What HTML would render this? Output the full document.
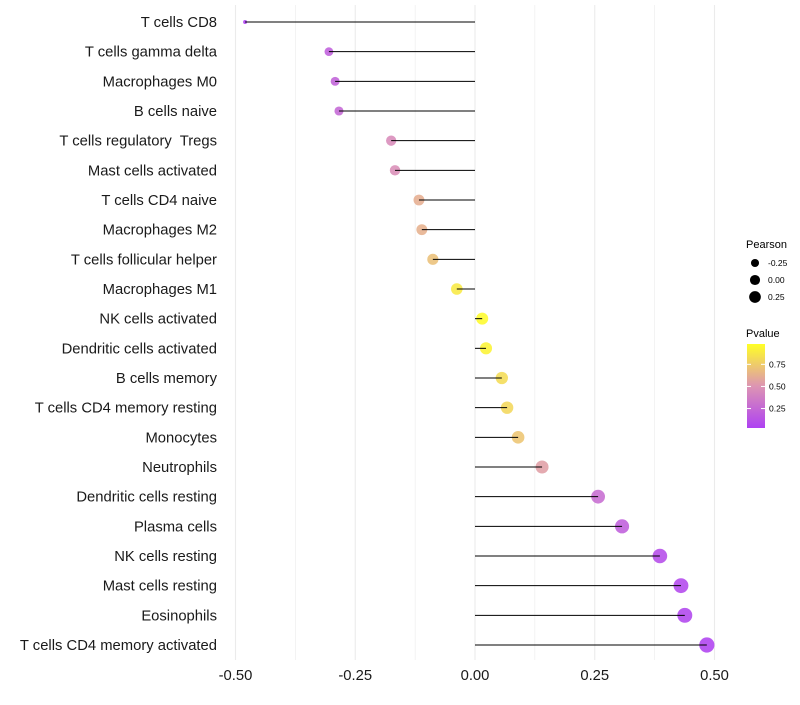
<!DOCTYPE html>
<html><head><meta charset="utf-8"><style>
body{margin:0;background:#fff;font-family:"Liberation Sans",sans-serif}
text{white-space:pre}
</style></head><body>
<svg id="c" width="800" height="700" xmlns="http://www.w3.org/2000/svg" font-family="Liberation Sans, sans-serif"></svg>
<script>
const categories=["T cells CD8","T cells gamma delta","Macrophages M0","B cells naive","T cells regulatory  Tregs","Mast cells activated","T cells CD4 naive","Macrophages M2","T cells follicular helper","Macrophages M1","NK cells activated","Dendritic cells activated","B cells memory","T cells CD4 memory resting","Monocytes","Neutrophils","Dendritic cells resting","Plasma cells","NK cells resting","Mast cells resting","Eosinophils","T cells CD4 memory activated"];
const pearson=[-0.48,-0.305,-0.292,-0.284,-0.175,-0.167,-0.117,-0.111,-0.088,-0.038,0.015,0.023,0.056,0.067,0.090,0.14,0.257,0.307,0.386,0.43,0.438,0.484];
const pvalue=[0.03,0.2,0.22,0.25,0.45,0.47,0.62,0.63,0.7,0.88,0.96,0.93,0.82,0.8,0.72,0.55,0.28,0.2,0.1,0.07,0.06,0.04];
const xTicks=[-0.5,-0.25,0,0.25,0.5];
const xTickLabels=["-0.50","-0.25","0.00","0.25","0.50"];
const sizeLegend=[-0.25,0,0.25];
const sizeLegendLabels=["-0.25","0.00","0.25"];
const colorLegend=[0.25,0.5,0.75];
const colorLegendLabels=["0.25","0.50","0.75"];

const NS="http://www.w3.org/2000/svg";
const svg=document.getElementById('c');
const x=v=>475+v*479;
const y=i=>22+i*(623/21);
const r=v=>2+5.6*Math.sqrt(Math.max(0,(v+0.48)/0.964));
const pmin=0.03,pmax=0.98;
function col(p){const t=Math.max(0,Math.min(1,(p-pmin)/(pmax-pmin)));
 const a=[160,32,240],m=[215,130,165],b=[255,255,0];
 let c;if(t<0.5){const u=t/0.5;c=a.map((v,k)=>v+(m[k]-v)*u);}else{const u=(t-0.5)/0.5;c=m.map((v,k)=>v+(b[k]-v)*u);}
 return `rgb(${c.map(Math.round).join(',')})`;}
function el(tag,attrs,parent){const e=document.createElementNS(NS,tag);for(const k in attrs)e.setAttribute(k,attrs[k]);(parent||svg).appendChild(e);return e;}

[-0.5,-0.375,-0.25,-0.125,0,0.125,0.25,0.375,0.5].forEach(v=>{
 const g=el('line',{x1:x(v),x2:x(v),y1:5,y2:660,stroke:'#ebebeb','stroke-width':Number.isInteger(v*4)?1.1:0.6});
 
 
});
categories.forEach((c,i)=>{
 const t=el('text',{x:217,y:y(i)+5,'text-anchor':'end','font-size':14.8,fill:'#1a1a1a'});t.textContent=c;
 
 
 const ci=el('circle',{cx:x(pearson[i]),cy:y(i),r:r(pearson[i]),fill:col(pvalue[i]),'fill-opacity':0.75});
 
 
 const l=el('line',{x1:x(0),x2:x(pearson[i]),y1:y(i),y2:y(i),stroke:'#000','stroke-width':1});
 
 
});
xTicks.forEach((v,i)=>{
 const t=el('text',{x:x(v),y:680,'text-anchor':'middle','font-size':14.8,fill:'#1a1a1a'});t.textContent=xTickLabels[i];
 
 
});
let t=el('text',{x:746,y:248,'font-size':11,fill:'#000'});t.textContent='Pearson';


sizeLegend.forEach((v,i)=>{
 const cy=263+i*17;
 const c=el('circle',{cx:755,cy:cy,r:r(v)*0.85,fill:'#000'});
 
 
 const tt=el('text',{x:768,y:cy+3,'font-size':8.5,fill:'#000'});tt.textContent=sizeLegendLabels[i];
 
 
});
t=el('text',{x:746,y:337,'font-size':11,fill:'#000'});t.textContent='Pvalue';


const defs=el('defs',{});const lg=el('linearGradient',{id:'g',x1:0,y1:1,x2:0,y2:0},defs);
for(let k=0;k<=10;k++){el('stop',{offset:k/10,'stop-color':col(pmin+(pmax-pmin)*k/10),'stop-opacity':0.85},lg);}
const bar=el('rect',{x:747,y:344,width:18,height:84,fill:'url(#g)'});


const cy=v=>428-(v-pmin)/(pmax-pmin)*84;
colorLegend.forEach((v,i)=>{
 el('line',{x1:747,x2:751,y1:cy(v),y2:cy(v),stroke:'#fff'});el('line',{x1:761,x2:765,y1:cy(v),y2:cy(v),stroke:'#fff'});
 const tt=el('text',{x:769,y:cy(v)+3,'font-size':8.5,fill:'#000'});tt.textContent=colorLegendLabels[i];
 
 
});
</script></body></html>
